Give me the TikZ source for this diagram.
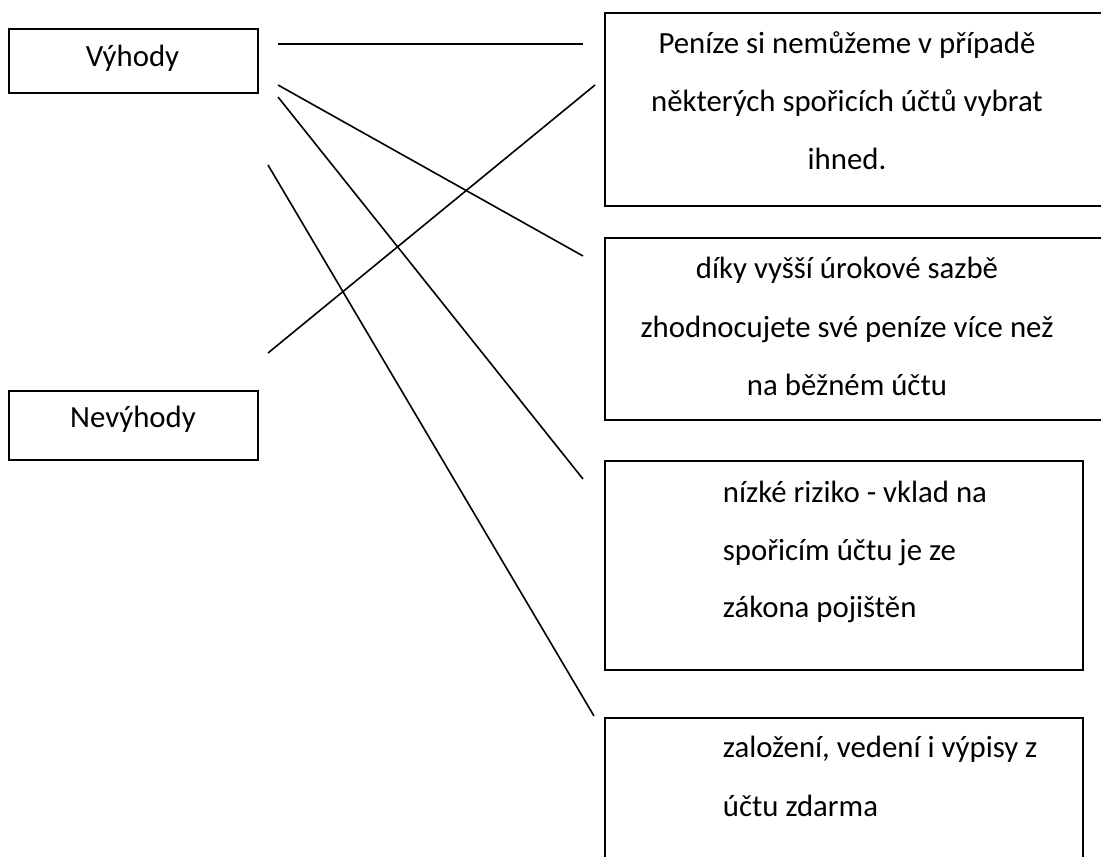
\documentclass[tikz,border=0pt]{standalone}
\usepackage{fontspec}
\setmainfont{Carlito}
\begin{document}
\begin{tikzpicture}[x=1pt,y=-1pt,
  boxstyle/.style={draw=black,line width=2pt},
  link/.style={draw=black,line width=1.6pt},
  txt/.style={inner sep=0pt,anchor=base,font=\fontsize{30.8}{36}\selectfont},
  txtl/.style={txt,anchor=base west}]
\useasboundingbox (0,0) rectangle (1101,857);
\clip (0,0) rectangle (1101,857);
\fill[white] (0,0) rectangle (1101,857);
% boxes
\node[boxstyle,inner sep=0pt,anchor=north west,minimum width=249pt,minimum height=64pt] (vyh) at (8,28) {};
\node[boxstyle,inner sep=0pt,anchor=north west,minimum width=249pt,minimum height=69pt] (nev) at (8,390) {};
\node[boxstyle,inner sep=0pt,anchor=north west,minimum width=520pt,minimum height=193pt] (b1) at (604,12) {};
\node[boxstyle,inner sep=0pt,anchor=north west,minimum width=520pt,minimum height=182pt] (b2) at (604,237) {};
\node[boxstyle,inner sep=0pt,anchor=north west,minimum width=478pt,minimum height=209pt] (b3) at (604,460) {};
\node[boxstyle,inner sep=0pt,anchor=north west,minimum width=478pt,minimum height=160pt] (b4) at (604,717) {};
% texts
\node[txt] (tv) at (132.5,66.7) {Výhody};
\node[txt] (tn) at (133,427) {Nevýhody};
\node[txt] (t11) at (847,53) {Peníze si nemůžeme v případě};
\node[txt] (t12) at (847,111) {některých spořicích účtů vybrat};
\node[txt] (t13) at (847,169.5) {ihned.};
\node[txt] (t21) at (847,278) {díky vyšší úrokové sazbě};
\node[txt] (t22) at (847,337) {zhodnocujete své peníze více než};
\node[txt] (t23) at (847,395.5) {na běžném účtu};
\node[txtl] (t31) at (722.7,502) {nízké riziko - vklad na};
\node[txtl] (t32) at (722.7,560) {spořicím účtu je ze};
\node[txtl] (t33) at (722.7,617) {zákona pojištěn};
\node[txtl] (t41) at (722.7,757) {založení, vedení i výpisy z};
\node[txtl] (t42) at (722.7,816) {účtu zdarma};
% connector end points
\coordinate (v1) at (278,44);
\coordinate (v2) at (278,85);
\coordinate (v3) at (278,97);
\coordinate (v4) at (268,165);
\coordinate (n1) at (268,353);
\coordinate (e1) at (583,44);
\coordinate (e1n) at (595,85);
\coordinate (e2) at (583,256);
\coordinate (e3) at (583,479);
\coordinate (e4) at (594,716);
% connectors
\draw[link] (v1) -- (e1);
\draw[link] (v2) -- (e2);
\draw[link] (v3) -- (e3);
\draw[link] (v4) -- (e4);
\draw[link] (n1) -- (e1n);
\end{tikzpicture}
\end{document}
